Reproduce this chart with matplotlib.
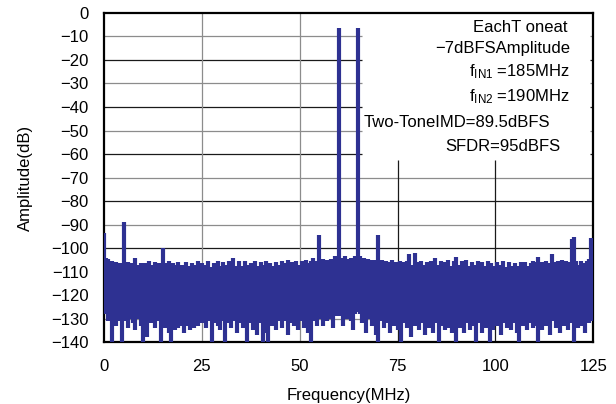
import matplotlib
matplotlib.use("Agg")
import matplotlib.pyplot as plt
import numpy as np

# FFT bins every 0.5 MHz, 0..125 MHz
BIN_MHZ = 0.5

# top of each bin (dB)
upper_db = [
    -93.5, -104, -104.5, -106, -105.5, -107, -106, -108, -106.5, -107.5,
    -89, -108, -106, -107.5, -106.5, -108.5, -104.3, -107, -108.5, -106.5,
    -108, -106.5, -107.5, -105.5, -108.5, -107, -106, -108.5, -106.5, -107.5,
    -100, -108.5, -106.5, -105.5, -108, -106.5, -109, -107, -106, -108.5,
    -107, -108.5, -106, -107.5, -109, -106.5, -108, -107, -105.5, -108,
    -106.5, -108.5, -107, -105.5, -108, -109, -106.5, -108, -105.5, -107.5,
    -108.5, -106, -108, -107, -105.5, -108, -104, -107.5, -108.5, -105.5,
    -107.5, -108.5, -105.5, -107, -109, -106.5, -108, -105.5, -107.5, -108.5,
    -106, -108.5, -107, -105.5, -108, -106.5, -107.5, -109, -106, -108,
    -107, -105.5, -108.5, -106.5, -105, -108, -106, -108, -105.5, -107,
    -108, -105.5, -107.5, -105, -106.5, -108, -105.5, -104.3, -107, -105.5,
    -94.5, -106.5, -104.5, -106, -105, -107, -104.5, -105.5, -103.5, -105,
    -6.5, -104, -105, -103.5, -105.5, -104.5, -104, -105.5, -103.5, -104.5,
    -6.5, -103.5, -105.5, -104, -106, -104.5, -106.5, -105, -107, -105,
    -94.5, -106.5, -105, -107, -105.5, -108, -106, -105, -107.5, -106,
    -107.5, -105.5, -108, -106, -107.5, -105.5, -102.6, -107, -108, -102.2,
    -106, -108, -105.5, -107, -108.5, -106, -107.5, -105.5, -107, -104.3,
    -107, -108.5, -105.5, -107.5, -106, -108, -105, -107.5, -108.5, -105.5,
    -103.7, -107, -108.5, -105.5, -107, -105, -107.5, -108.5, -106, -107,
    -108, -105.5, -108.5, -106, -107.5, -109, -105.5, -108, -106.5, -107.5,
    -108.5, -106, -108, -107, -105.5, -108, -109, -106, -107.5, -108.5,
    -106.5, -109, -107.5, -106, -108.5, -106, -107.5, -109, -106.5, -105.5,
    -108, -106, -103.7, -107.5, -106, -108, -105.5, -106.5, -107.5, -102.6,
    -106, -107.5, -105.5, -107, -105, -107, -105.5, -107.5, -106, -96,
    -95.2, -105.5, -107, -108, -105.5, -106.5, -107.5, -105.5, -104.5, -95.5,
    -106,
]

# bottom of each bin (dB)
lower_db = [
    -126, -128, -131, -130, -140, -129, -133, -128, -131, -140,
    -131, -129, -134, -130, -128, -132, -135, -130, -129, -133,
    -140, -131, -138, -130, -132, -129, -134, -131, -130, -140,
    -131, -134, -130, -136, -140, -132, -135, -131, -134, -133,
    -131, -136, -133, -130, -135, -132, -134, -131, -133, -130,
    -132, -129, -134, -131, -130, -140, -132, -129, -133, -135,
    -130, -131, -140, -132, -129, -134, -131, -130, -136, -132,
    -130, -134, -131, -140, -132, -129, -135, -131, -137, -130,
    -132, -140, -131, -136, -140, -130, -133, -129, -135, -131,
    -130, -134, -131, -129, -137, -132, -130, -133, -131, -135,
    -131, -130, -134, -131, -136, -132, -140, -131, -129, -133,
    -130, -128, -133, -129, -131, -127, -130, -134, -128, -129,
    -127, -129, -133, -128, -130, -126, -131, -135, -128, -127,
    -126, -128, -132, -129, -136, -130, -128, -133, -131, -137,
    -140, -131, -129, -134, -130, -132, -136, -130, -133, -131,
    -135, -130, -140, -132, -129, -134, -131, -138, -130, -133,
    -131, -135, -130, -132, -137, -131, -134, -130, -136, -132,
    -130, -140, -133, -131, -135, -130, -134, -131, -136, -132,
    -140, -131, -134, -130, -136, -132, -130, -135, -131, -133,
    -140, -132, -130, -136, -131, -134, -130, -140, -132, -135,
    -131, -133, -130, -137, -132, -130, -134, -131, -135, -130,
    -132, -136, -140, -131, -133, -130, -135, -132, -130, -134,
    -131, -133, -140, -130, -135, -131, -133, -130, -137, -131,
    -130, -134, -131, -136, -130, -133, -131, -135, -130, -132,
    -140, -131, -134, -130, -133, -131, -136, -130, -132, -131,
    -130,
]

x_ticks = [0, 25, 50, 75, 100, 125]
y_ticks = list(range(0, -150, -10))

notes = [
    ("EachT oneat", 118.4, -6.4),
    ("\u22127dBFSAmplitude", 119.1, -15.3),
    ("f$_{\\mathrm{IN1}}$ =185MHz", 118.9, -25.1),
    ("f$_{\\mathrm{IN2}}$ =190MHz", 118.9, -35.7),
    ("Two-ToneIMD=89.5dBFS", 114.0, -46.8),
    ("SFDR=95dBFS", 116.6, -56.6),
]

LINE_BLUE = "#2e3192"
FS = 12


def load_settings():
    matplotlib.rcParams['font.family'] = 'sans-serif'
    matplotlib.rcParams['font.sans-serif'] = ['Liberation Sans', 'DejaVu Sans']
    matplotlib.rcParams['mathtext.fontset'] = 'custom'
    matplotlib.rcParams['mathtext.rm'] = 'Liberation Sans'
    matplotlib.rcParams['mathtext.it'] = 'Liberation Sans'
    matplotlib.rcParams['font.size'] = FS


def draw_grid(ax):
    # text block on the right hides the upper part of the grid
    box_left = 66
    for y in y_ticks[1:]:
        col = "#1a1a1a" if y % 20 == 0 else "#8c8c8c"
        if y > -65:
            ax.hlines(y, 0, box_left, color=col, lw=0.9, zorder=1)
            ax.hlines(y, 124.2, 125, color=col, lw=0.9, zorder=1)
        else:
            ax.hlines(y, 0, 125, color=col, lw=0.9, zorder=1)
    for x in [25, 50]:
        ax.vlines(x, -140, 0, color="#8c8c8c", lw=0.9, zorder=1)
    for x in [75, 100]:
        ax.vlines(x, -140, -62.5, color="#1a1a1a", lw=0.9, zorder=1)


load_settings()
fig = plt.figure(figsize=(6.16, 4.04), dpi=100)
ax = fig.add_axes([0.169, 0.153, 0.794, 0.815])

freqs = np.arange(len(upper_db)) * BIN_MHZ
draw_grid(ax)
ax.vlines(freqs, lower_db, upper_db, color=LINE_BLUE, lw=3.0, zorder=3)

for txt, x, y in notes:
    ax.text(x, y, txt, ha='right', va='center', fontsize=FS, zorder=4)

ax.set_xlim(0, 125)
ax.set_ylim(-140, 0)
ax.set_xticks(x_ticks)
ax.set_yticks(y_ticks)
ax.set_yticklabels([str(v).replace('-', '\u2212') for v in y_ticks])
ax.tick_params(axis='both', length=0, labelsize=FS)
ax.tick_params(axis='y', pad=11)
ax.tick_params(axis='x', pad=12)
for s in ax.spines.values():
    s.set_linewidth(1.6)

ax.set_xlabel("Frequency(MHz)", fontsize=FS, labelpad=10)
ax.set_ylabel("Amplitude(dB)", fontsize=FS, labelpad=13)

fig.savefig("out.png", dpi=100)
